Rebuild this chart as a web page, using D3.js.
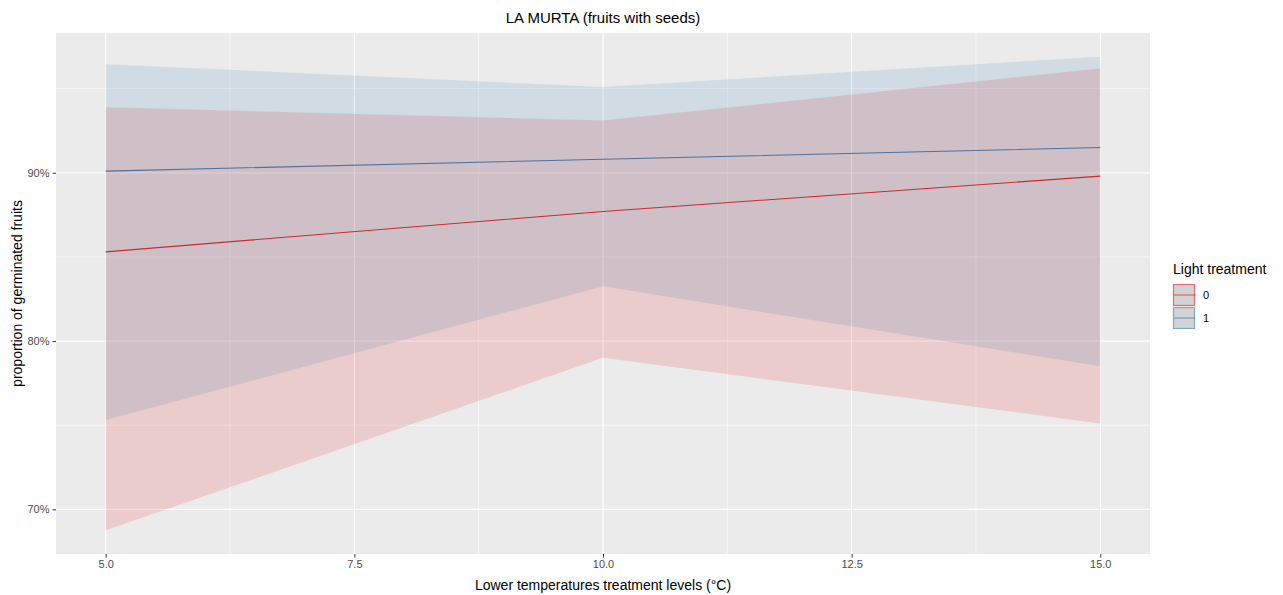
<!DOCTYPE html>
<html>
<head>
<meta charset="utf-8">
<script src="https://cdn.jsdelivr.net/npm/d3@7"></script>
<style>
  body { margin: 0; background: #fff; }
  svg text { font-family: "Liberation Sans", Arial, sans-serif; }
</style>
</head>
<body>
<div class="canva"></div>
<script>
const width = 1283
const height = 595

// data (temperature levels, predicted proportion + CI)
const temps = [5, 10, 15]
const groups = ["0", "1"]
const fit0 = [0.853, 0.877, 0.898]
const lower0 = [0.6875, 0.790, 0.751]
const upper0 = [0.939, 0.931, 0.962]
const fit1 = [0.901, 0.908, 0.915]
const lower1 = [0.753, 0.8325, 0.785]
const upper1 = [0.9645, 0.951, 0.969]
const xTicks = [5, 7.5, 10, 12.5, 15]
const yTicks = [0.7, 0.8, 0.9]

const colors = { "0": "#E41A1C", "1": "#377EB8" }

const series = [
  { key: "0", fit: fit0, lo: lower0, hi: upper0 },
  { key: "1", fit: fit1, lo: lower1, hi: upper1 }
].map(s => ({
  key: s.key,
  values: temps.map((t, i) => ({ t, fit: s.fit[i], lo: s.lo[i], hi: s.hi[i] }))
}))

const panel = { left: 56, right: 1150, top: 33, bottom: 554 }

const svg = d3.select(".canva").append("svg").attr("width", width).attr("height", height)

// ggplot style 5% expansion
const allVals = lower0.concat(upper0, lower1, upper1)
const yMin = d3.min(allVals), yMax = d3.max(allVals)
const yPad = (yMax - yMin) * 0.05
const xPad = (d3.max(temps) - d3.min(temps)) * 0.05

const x = d3.scaleLinear()
  .domain([d3.min(temps) - xPad, d3.max(temps) + xPad])
  .range([panel.left, panel.right])
const y = d3.scaleLinear()
  .domain([yMin - yPad, yMax + yPad])
  .range([panel.bottom, panel.top])

//panel background
svg.append("rect")
  .attr("x", panel.left).attr("y", panel.top)
  .attr("width", panel.right - panel.left).attr("height", panel.bottom - panel.top)
  .attr("fill", "#EBEBEB")

// minor grid
const xMinor = xTicks.slice(0, -1).map((d, i) => (d + xTicks[i + 1]) / 2)
const yMinor = [0.75, 0.85, 0.95]
const grid = svg.append("g")
grid.selectAll(".xminor").data(xMinor).enter().append("line")
  .attr("x1", d => x(d)).attr("x2", d => x(d))
  .attr("y1", panel.top).attr("y2", panel.bottom)
  .attr("stroke", "#fff").attr("stroke-width", 0.6)
grid.selectAll(".yminor").data(yMinor).enter().append("line")
  .attr("x1", panel.left).attr("x2", panel.right)
  .attr("y1", d => y(d)).attr("y2", d => y(d))
  .attr("stroke", "#fff").attr("stroke-width", 0.6)
grid.selectAll(".xmajor").data(xTicks).enter().append("line")
  .attr("x1", d => x(d)).attr("x2", d => x(d))
  .attr("y1", panel.top).attr("y2", panel.bottom)
  .attr("stroke", "#fff").attr("stroke-width", 1.2)
grid.selectAll(".ymajor").data(yTicks).enter().append("line")
  .attr("x1", panel.left).attr("x2", panel.right)
  .attr("y1", d => y(d)).attr("y2", d => y(d))
  .attr("stroke", "#fff").attr("stroke-width", 1.2)

// lines then ribbons on top
const line = d3.line().x(d => x(d.t)).y(d => y(d.fit))
const area = d3.area().x(d => x(d.t)).y0(d => y(d.lo)).y1(d => y(d.hi))

svg.append("g").selectAll("path").data(series).enter().append("path")
  .attr("d", d => line(d.values))
  .attr("fill", "none")
  .attr("stroke", d => colors[d.key])
  .attr("stroke-width", 1.1)

svg.append("g").selectAll("path").data(series).enter().append("path")
  .attr("d", d => area(d.values))
  .attr("fill", d => colors[d.key])
  .attr("fill-opacity", 0.15)

// axes
const xAxis = svg.append("g")
  .attr("transform", `translate(0,${panel.bottom})`)
  .call(d3.axisBottom(x).tickValues(xTicks).tickFormat(d3.format(".1f")).tickSize(3.5).tickPadding(3))
const yAxis = svg.append("g")
  .attr("transform", `translate(${panel.left},0)`)
  .call(d3.axisLeft(y).tickValues(yTicks).tickFormat(d3.format(".0%")).tickSize(3.5).tickPadding(3))
;[xAxis, yAxis].forEach(a => {
  a.select(".domain").remove()
  a.selectAll(".tick line").attr("stroke", "#333")
  a.selectAll(".tick text").attr("fill", "#4D4D4D").style("font-size", "11px")
})

// titles
svg.append("text")
  .attr("x", (panel.left + panel.right) / 2).attr("y", 23)
  .attr("text-anchor", "middle").style("font-size", "15px").attr("fill", "#000")
  .text("LA MURTA (fruits with seeds)")
svg.append("text")
  .attr("x", (panel.left + panel.right) / 2).attr("y", 590)
  .attr("text-anchor", "middle").style("font-size", "14px").attr("fill", "#000")
  .text("Lower temperatures treatment levels (°C)")
svg.append("text")
  .attr("transform", `translate(22,${(panel.top + panel.bottom) / 2}) rotate(-90)`)
  .attr("text-anchor", "middle").style("font-size", "14px").attr("fill", "#000")
  .text("proportion of germinated fruits")

// legend
const legend = svg.append("g").attr("transform", "translate(1173,0)")
legend.append("text").attr("x", 0).attr("y", 274)
  .style("font-size", "14px").attr("fill", "#000").text("Light treatment")
const keys = legend.selectAll(".key").data(groups).enter().append("g")
  .attr("transform", (d, i) => `translate(0,${284 + i * 23})`)
keys.append("rect").attr("x", 0.5).attr("y", 0.5).attr("width", 21).attr("height", 21)
  .attr("fill", "#D3D3D3").attr("stroke", d => colors[d]).attr("stroke-opacity", 0.6).attr("stroke-width", 1.2)
keys.append("line").attr("x1", 1).attr("x2", 22).attr("y1", 11).attr("y2", 11)
  .attr("stroke", d => colors[d]).attr("stroke-opacity", 0.7).attr("stroke-width", 1)
keys.append("text").attr("x", 30).attr("y", 15)
  .style("font-size", "11px").attr("fill", "#000").text(d => d)
</script>
</body>
</html>
